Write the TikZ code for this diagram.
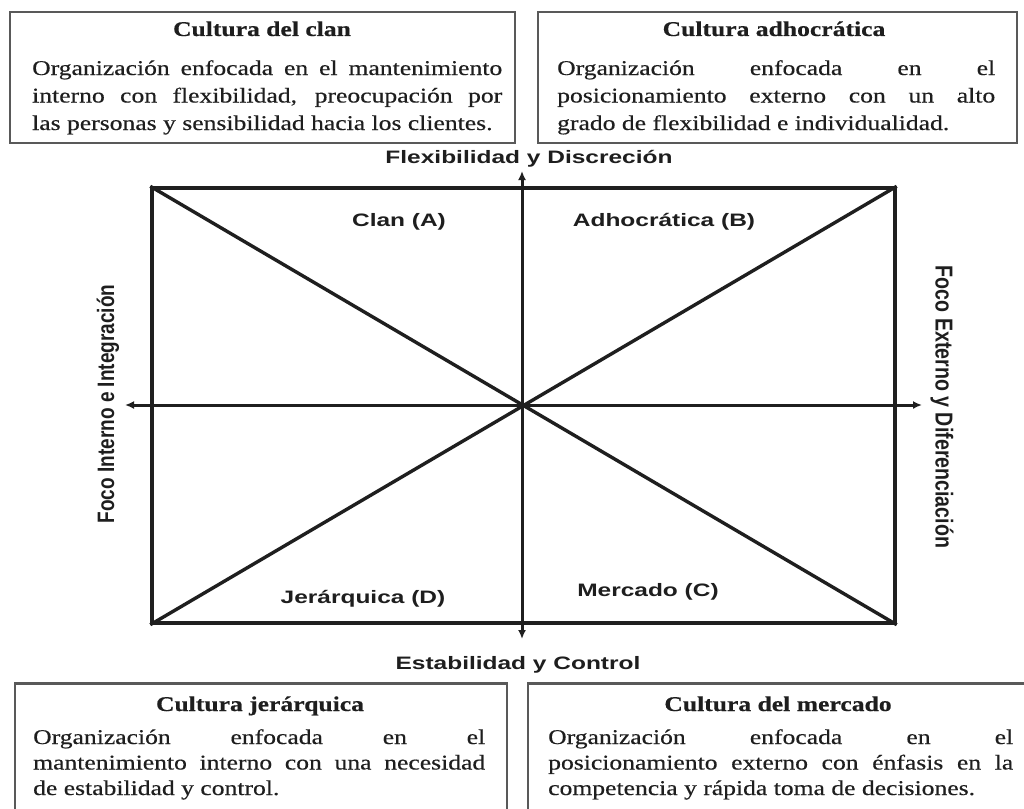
\documentclass[tikz,border=0pt]{standalone}
\usepackage{fontspec}
\usetikzlibrary{arrows.meta}
\newfontfamily\bodyfont[FakeStretch=1.22,FakeBold=0.4]{Liberation Serif}
\newfontfamily\labelfont[FakeStretch=1.36]{Liberation Sans}
\newfontfamily\sidefont{Liberation Sans}
\hbadness=10000
\definecolor{ink}{HTML}{1E1E1E}
\tikzset{
  descbox/.style={draw=black!65, line width=2.6pt, inner sep=0pt},
  boxtitle/.style={anchor=base, inner sep=0pt, text=ink, font=\bodyfont\bfseries\fontsize{21pt}{26pt}\selectfont},
  boxbody/.style={anchor=base west, inner sep=0pt, text=ink},
  axislabel/.style={anchor=base, inner sep=0pt, text=ink, font=\labelfont\bfseries\fontsize{18pt}{22pt}\selectfont},
  sidelabel/.style={inner sep=0pt, text=ink},
  frameline/.style={line width=3.4pt, black!88},
  axisline/.style={line width=3pt, black!88, {Latex[length=9pt,width=8pt]}-{Latex[length=9pt,width=8pt]}}
}
\newcommand{\bodytop}[2]{\parbox[t]{#1}{\bodyfont\fontsize{21pt}{27.5pt}\selectfont #2}}
\newcommand{\bodybot}[2]{\parbox[t]{#1}{\bodyfont\fontsize{21pt}{25.5pt}\selectfont #2}}
\begin{document}
\begin{tikzpicture}[x=1pt,y=-1pt]
\useasboundingbox (0,0) rectangle (1024,808);
\fill[white] (0,0) rectangle (1024,808);

% description boxes
\node[descbox, minimum width=505pt, minimum height=131pt] (boxA) at (262.5,77.5) {};
\node[descbox, minimum width=479pt, minimum height=131pt] (boxB) at (777.5,77.5) {};
\node[descbox, minimum width=492pt, minimum height=150pt, anchor=north] (boxD) at (261,682) {};
\node[descbox, minimum width=505pt, minimum height=150pt, anchor=north] (boxC) at (780.5,682) {};

\node[boxtitle] (tA) at (262,36) {Cultura del clan};
\node[boxbody] (bA) at (32,75) {\bodytop{470pt}{Organización enfocada en el mantenimiento\linebreak interno con flexibilidad, preocupación por\linebreak las personas y sensibilidad hacia los clientes.}};

\node[boxtitle] (tB) at (774,36) {Cultura adhocrática};
\node[boxbody] (bB) at (557,75) {\bodytop{438pt}{Organización enfocada en el\linebreak posicionamiento externo con un alto\linebreak grado de flexibilidad e individualidad.}};

\node[boxtitle] (tD) at (260,711) {Cultura jerárquica};
\node[boxbody] (bD) at (33,744) {\bodybot{452pt}{Organización enfocada en el\linebreak mantenimiento interno con una necesidad\linebreak de estabilidad y control.}};

\node[boxtitle] (tC) at (778,711) {Cultura del mercado};
\node[boxbody] (bC) at (548,744) {\bodybot{465pt}{Organización enfocada en el\linebreak posicionamiento externo con énfasis en la\linebreak competencia y rápida toma de decisiones.}};

% main frame
\node[draw, frameline, minimum width=743pt, minimum height=435pt, inner sep=0pt] (frame) at (523.5,405.5) {};
\draw[frameline] (frame.north west) -- (frame.south east);
\draw[frameline] (frame.south west) -- (frame.north east);

% axes
\coordinate (axtop) at (522,171);
\coordinate (axbot) at (522,639);
\coordinate (axleft) at (125,405);
\coordinate (axright) at (922,405);
\draw[axisline] (axbot) -- (axtop);
\draw[axisline] (axleft) -- (axright);

% axis labels
\node[axislabel] (lflex) at (529,163) {Flexibilidad y Discreción};
\node[axislabel] (lest) at (518,669) {Estabilidad y Control};
\node[sidelabel, rotate=90] (lint) at (108,404) {\scalebox{1}[1.25]{\sidefont\bfseries\fontsize{19pt}{23pt}\selectfont Foco Interno e Integración}};
\node[sidelabel, rotate=-90] (lext) at (942,407) {\scalebox{1}[1.25]{\sidefont\bfseries\fontsize{19.6pt}{23pt}\selectfont Foco Externo y Diferenciación}};

% quadrant labels
\node[axislabel] (qA) at (399,226) {Clan (A)};
\node[axislabel] (qB) at (664,226) {Adhocrática (B)};
\node[axislabel] (qD) at (363,603) {Jerárquica (D)};
\node[axislabel] (qC) at (648,596) {Mercado (C)};
\end{tikzpicture}
\end{document}
